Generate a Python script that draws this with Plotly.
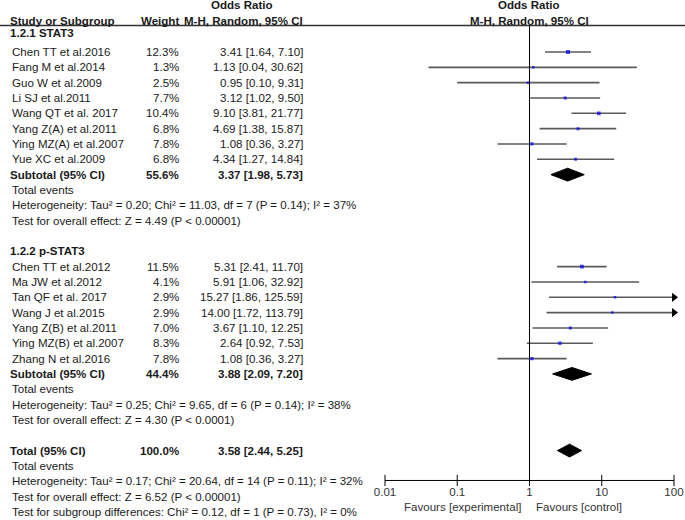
import math
import plotly.graph_objects as go

# ---- data ----
studies_a = ["Chen TT et al.2016", "Fang M et al.2014", "Guo W et al.2009", "Li SJ et al.2011",
             "Wang QT et al. 2017", "Yang Z(A) et al.2011", "Ying MZ(A) et al.2007", "Yue XC et al.2009"]
weight_a = [12.3, 1.3, 2.5, 7.7, 10.4, 6.8, 7.8, 6.8]
or_a = [3.41, 1.13, 0.95, 3.12, 9.10, 4.69, 1.08, 4.34]
lo_a = [1.64, 0.04, 0.10, 1.02, 3.81, 1.38, 0.36, 1.27]
hi_a = [7.10, 30.62, 9.31, 9.50, 21.77, 15.87, 3.27, 14.84]

studies_b = ["Chen TT et al.2012", "Ma JW et al.2012", "Tan QF et al. 2017", "Wang J et al.2015",
             "Yang Z(B) et al.2011", "Ying MZ(B) et al.2007", "Zhang N et al.2016"]
weight_b = [11.5, 4.1, 2.9, 2.9, 7.0, 8.3, 7.8]
or_b = [5.31, 5.91, 15.27, 14.00, 3.67, 2.64, 1.08]
lo_b = [2.41, 1.06, 1.86, 1.72, 1.10, 0.92, 0.36]
hi_b = [11.70, 32.92, 125.59, 113.79, 12.25, 7.53, 3.27]

# pooled: weight, OR, lower, upper
subtotal_a = [55.6, 3.37, 1.98, 5.73]
subtotal_b = [44.4, 3.88, 2.09, 7.20]
total_all = [100.0, 3.58, 2.44, 5.25]

group_names = ["1.2.1 STAT3", "1.2.2 p-STAT3"]
het_a = ["Heterogeneity: Tau² = 0.20; Chi² = 11.03, df = 7 (P = 0.14); I² = 37%",
         "Test for overall effect: Z = 4.49 (P < 0.00001)"]
het_b = ["Heterogeneity: Tau² = 0.25; Chi² = 9.65, df = 6 (P = 0.14); I² = 38%",
         "Test for overall effect: Z = 4.30 (P < 0.0001)"]
het_all = ["Heterogeneity: Tau² = 0.17; Chi² = 20.64, df = 14 (P = 0.11); I² = 32%",
           "Test for overall effect: Z = 6.52 (P < 0.00001)",
           "Test for subgroup differences: Chi² = 0.12, df = 1 (P = 0.73), I² = 0%"]

axis_ticks = [0.01, 0.1, 1, 10, 100]
axis_labels = ["0.01", "0.1", "1", "10", "100"]

# ---- layout constants ----
W, H = 685, 520
ROW0, ROWH = 52.0, 15.33          # pixel centre of first study row, row height
FONT = "Liberation Sans, Arial, sans-serif"
FS = 11.55
TXT = "#1a1a1a"
X_NAME, X_WEIGHT, X_OR = 10, 179, 303
HEADER_LINE = -1.73
AXIS_ROW = 27.95
XMIN, XMAX = 0.01, 100

fig = go.Figure()
ann = []


def text(x, row, s, anchor="left", bold=False, xref="paper", color=TXT):
    ann.append(dict(x=x / W if xref == "paper" else x, y=row, xref=xref, yref="y",
                    text=f"<b>{s}</b>" if bold else s, showarrow=False,
                    xanchor=anchor, yanchor="middle", borderpad=0, borderwidth=0,
                    font=dict(family=FONT, size=FS, color=color)))


def fmt(o, lo, hi):
    return f"{o:.2f} [{lo:.2f}, {hi:.2f}]"


def study_rows(names, w, o, lo, hi, start):
    rows = [start + i for i in range(len(names))]
    for r, n, wi, oi, l, h in zip(rows, names, w, o, lo, hi):
        text(X_NAME + 2, r, n)
        text(X_WEIGHT, r, f"{wi:.1f}%", "right")
        text(X_OR, r, fmt(oi, l, h), "right")
        fig.add_trace(go.Scatter(x=[l, min(h, XMAX)], y=[r, r], mode="lines",
                                 line=dict(color="#5a5a5a", width=1.6), hoverinfo="skip"))
        if h > XMAX:
            fig.add_trace(go.Scatter(x=[XMAX], y=[r], mode="markers", cliponaxis=False,
                                     marker=dict(symbol="triangle-right", size=8, color="black"),
                                     hoverinfo="skip"))
    fig.add_trace(go.Scatter(x=o, y=rows, mode="markers",
                             marker=dict(symbol="square", color="#0000ff",
                                         size=[max(2.5, 1.15 * math.sqrt(v)) for v in w],
                                         line=dict(width=0)),
                             hoverinfo="skip"))


def pooled(row, vals, label):
    w, o, lo, hi = vals
    text(X_NAME, row, label, bold=True)
    text(X_WEIGHT, row, f"{w:.1f}%", "right", bold=True)
    text(X_OR, row, fmt(o, lo, hi), "right", bold=True)
    hh = 0.42
    fig.add_trace(go.Scatter(x=[lo, o, hi, o, lo], y=[row, row - hh, row, row + hh, row],
                             mode="lines", fill="toself", fillcolor="black",
                             line=dict(color="black", width=1), hoverinfo="skip"))


# headers
text(242, -3.05, "Odds Ratio", "center", bold=True)
text(X_NAME, -2.02, "Study or Subgroup", bold=True)
text(X_WEIGHT, -2.02, "Weight", "right", bold=True)
text(X_OR, -2.02, "M-H, Random, 95% CI", "right", bold=True)
text(0, -3.05, "Odds Ratio", "center", bold=True, xref="x")
text(0, -2.02, "M-H, Random, 95% CI", "center", bold=True, xref="x")

# group 1
text(X_NAME, -1.25, group_names[0], bold=True)
study_rows(studies_a, weight_a, or_a, lo_a, hi_a, 0)
pooled(8, subtotal_a, "Subtotal (95% CI)")
text(X_NAME + 2, 9, "Total events")
for i, s in enumerate(het_a):
    text(X_NAME + 2, 10 + i, s)

# group 2
text(X_NAME, 13, group_names[1], bold=True)
study_rows(studies_b, weight_b, or_b, lo_b, hi_b, 14)
pooled(21, subtotal_b, "Subtotal (95% CI)")
text(X_NAME + 2, 22, "Total events")
for i, s in enumerate(het_b):
    text(X_NAME + 2, 23 + i, s)

# overall
pooled(26, total_all, "Total (95% CI)")
text(X_NAME + 2, 27, "Total events")
for i, s in enumerate(het_all):
    text(X_NAME + 2, 28 + i, s)

# line of no effect and bottom axis
fig.add_trace(go.Scatter(x=[1, 1], y=[HEADER_LINE, AXIS_ROW], mode="lines",
                         line=dict(color="black", width=1), hoverinfo="skip"))
fig.add_trace(go.Scatter(x=[XMIN, XMAX], y=[AXIS_ROW, AXIS_ROW], mode="lines",
                         line=dict(color="black", width=1), hoverinfo="skip"))
fig.add_trace(go.Scatter(x=axis_ticks, y=[AXIS_ROW] * len(axis_ticks), mode="markers",
                         cliponaxis=False,
                         marker=dict(symbol="line-ns", size=8, line=dict(color="black", width=1)),
                         hoverinfo="skip"))

ann.append(dict(x=0, y=29.68, xref="x", yref="y", text="Favours [experimental]", showarrow=False,
                xanchor="right", yanchor="middle", xshift=-6,
                font=dict(family=FONT, size=FS, color="#333")))
ann.append(dict(x=0, y=29.68, xref="x", yref="y", text="Favours [control]", showarrow=False,
                xanchor="left", yanchor="middle", xshift=5,
                font=dict(family=FONT, size=FS, color="#333")))

dec = (674 - 385) / 4.0
xl, xr = -2.05, 2.05
dom = [(385 + (xl + 2) * dec) / W, (385 + (xr + 2) * dec) / W]

fig.update_layout(
    width=W, height=H,
    margin=dict(l=0, r=0, t=0, b=0, autoexpand=False),
    paper_bgcolor="white", plot_bgcolor="white",
    showlegend=False,
    annotations=ann,
    shapes=[dict(type="line", xref="paper", yref="y", x0=0, x1=1, y0=HEADER_LINE, y1=HEADER_LINE,
                 line=dict(color="#333", width=1.5))],
    xaxis=dict(type="log", range=[xl, xr], domain=dom, anchor="free", automargin=False,
               position=(H - (ROW0 + AXIS_ROW * ROWH)) / H,
               showgrid=False, zeroline=False, showline=False, ticks="",
               ticklabelstandoff=3,
               tickmode="array", tickvals=axis_ticks, ticktext=axis_labels,
               tickfont=dict(family=FONT, size=FS, color="#333")),
    yaxis=dict(range=[(H - ROW0) / ROWH, -ROW0 / ROWH], domain=[0, 1], visible=False,
               automargin=False),
)

# page body has a default 8px margin; drop it so the figure sits at the window's corner
fig.write_html("out.html", config={"displayModeBar": False},
               post_script="document.body.style.margin='0';")
